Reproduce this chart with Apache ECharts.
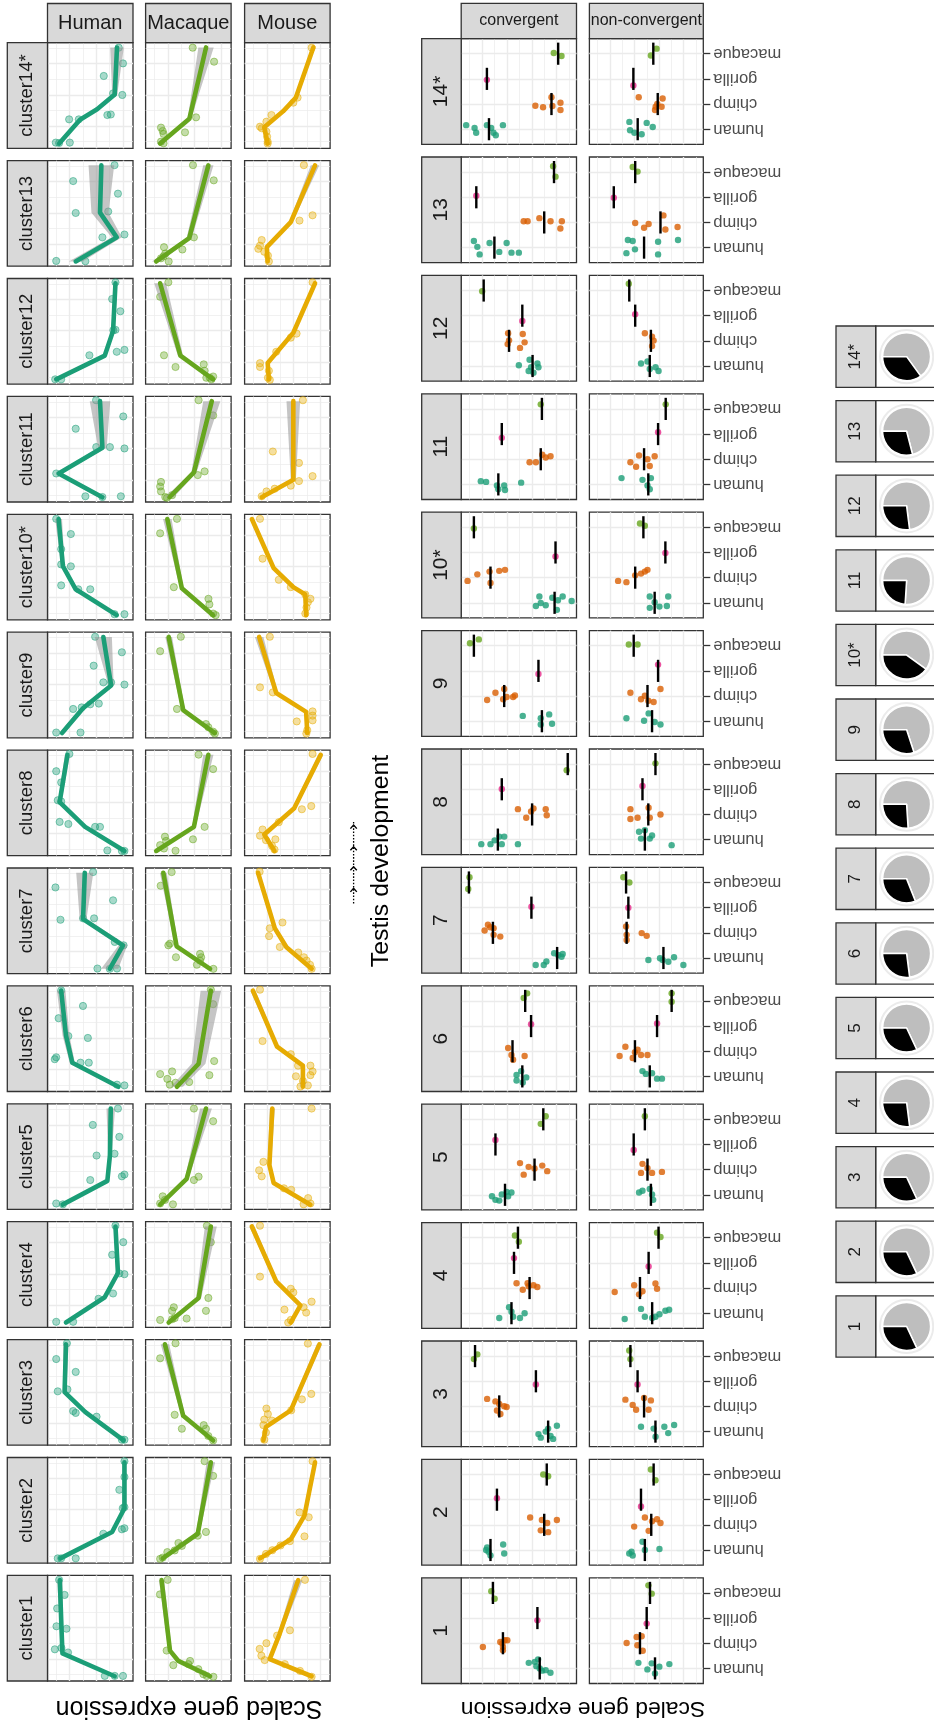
<!DOCTYPE html>
<html><head><meta charset="utf-8">
<script src="https://cdn.jsdelivr.net/npm/echarts/dist/echarts.min.js"></script>
<style>html,body{margin:0;padding:0;background:#fff}#chart{width:934px;height:1729px}</style>
</head><body><div id="chart"></div>
<script>
// ---------- labels ----------
const clusterLabels = ['cluster1','cluster2','cluster3','cluster4','cluster5','cluster6','cluster7','cluster8','cluster9','cluster10*','cluster11','cluster12','cluster13','cluster14*'];
const groupLabels = ['1','2','3','4','5','6','7','8','9','10*','11','12','13','14*'];
const species3 = ['Human','Macaque','Mouse'];
const species3Colors = ['#1B9E77','#66A61E','#E6AB02'];
const species3Fill = ['rgba(27,158,119,0.45)','rgba(102,166,30,0.45)','rgba(230,171,2,0.45)'];
const species4 = ['human','chimp','gorilla','macaque'];
const species4Colors = ['#1B9E77','#D95F02','#E7298A','#66A61E'];
const conditions = ['convergent','non-convergent'];
// grid line (tick) values
const topExprMajor = [0.11,0.428,0.74], topExprMinor = [0.273,0.583,0.903];
const topTimeMajor = [0.21,0.506,0.801], topTimeMinor = [0.0625,0.358,0.653,0.949];
const midExprMajor = [0.172,0.388,0.604,0.82], midExprMinor = [0.064,0.28,0.496,0.712,0.928];
const midCatTicks = [0,1,2,3];
// pie: share of black slice per group 1..14
const blackShare = [0.32,0.32,0.32,0.27,0.32,0.27,0.31,0.26,0.30,0.40,0.24,0.27,0.29,0.35];

// ---------- top block: points [expression, time], fit knots [time, expression, se] ----------
const c1Pts = [
 [[0.864,0.958],[0.80,0.815],[0.887,0.687],[0.895,0.518],[0.778,0.495],[0.914,0.30],[0.837,0.313],[0.76,0.27],[0.33,0.048],[0.214,0.048],[0.117,0.048]],
 [[0.742,0.958],[0.832,0.82],[0.754,0.288],[0.48,0.19],[0.50,0.16],[0.676,0.15],[0.383,0.112],[0.324,0.064],[0.285,0.048],[0.207,0.04]],
 [[0.294,0.958],[0.47,0.48],[0.62,0.43],[0.745,0.358],[0.824,0.304],[0.804,0.24],[0.765,0.198],[0.53,0.16],[0.353,0.096],[0.216,0.04]]];
const c1Fit = [
 [[0.955,0.856,0.03],[0.51,0.837,0.02],[0.262,0.825,0.02],[0.045,0.214,0.02]],
 [[0.955,0.813,0.03],[0.288,0.715,0.02],[0.19,0.617,0.03],[0.045,0.246,0.02]],
 [[0.955,0.373,0.05],[0.447,0.59,0.02],[0.208,0.706,0.02],[0.045,0.216,0.02]]];
const c2Pts = [
 [[0.10,0.965],[0.10,0.816],[0.16,0.694],[0.12,0.52],[0.10,0.53],[0.347,0.278],[0.13,0.32],[0.10,0.33],[0.88,0.045],[0.84,0.045],[0.67,0.045]],
 [[0.31,0.965],[0.21,0.826],[0.294,0.295],[0.39,0.26],[0.616,0.19],[0.576,0.163],[0.66,0.12],[0.746,0.104],[0.80,0.052],[0.83,0.04]],
 [[0.205,0.965],[0.358,0.48],[0.25,0.434],[0.30,0.253],[0.47,0.208],[0.58,0.167],[0.676,0.122],[0.75,0.087],[0.82,0.04]]];
const c2Fit = [
 [[0.955,0.10,0.02],[0.52,0.10,0.02],[0.295,0.244,0.02],[0.045,0.85,0.02]],
 [[0.955,0.237,0.05],[0.278,0.39,0.02],[0.045,0.80,0.02]],
 [[0.955,0.176,0.02],[0.45,0.30,0.02],[0.226,0.46,0.02],[0.045,0.82,0.02]]];
const c3Pts = [
 [[0.773,0.965],[0.898,0.816],[0.67,0.694],[0.88,0.51],[0.767,0.528],[0.70,0.323],[0.67,0.306],[0.426,0.27],[0.13,0.052],[0.10,0.052]],
 [[0.65,0.965],[0.83,0.823],[0.66,0.288],[0.576,0.156],[0.32,0.19],[0.294,0.156],[0.266,0.087],[0.21,0.045]],
 [[0.26,0.962],[0.22,0.486],[0.33,0.434],[0.455,0.33],[0.745,0.347],[0.728,0.295],[0.77,0.243],[0.68,0.233],[0.78,0.19],[0.75,0.12],[0.77,0.052]]];
const c3Fit = [
 [[0.955,0.784,0.03],[0.503,0.80,0.02],[0.313,0.557,0.02],[0.045,0.11,0.02]],
 [[0.955,0.774,0.05],[0.278,0.56,0.02],[0.045,0.21,0.02]],
 [[0.955,0.125,0.03],[0.33,0.46,0.02],[0.174,0.75,0.02],[0.045,0.78,0.02]]];
const c4Pts = [
 [[0.205,0.962],[0.114,0.806],[0.244,0.687],[0.10,0.503],[0.16,0.51],[0.233,0.32],[0.403,0.27],[0.898,0.052],[0.70,0.052]],
 [[0.283,0.962],[0.237,0.806],[0.266,0.278],[0.294,0.156],[0.67,0.19],[0.69,0.156],[0.66,0.087],[0.83,0.07],[0.69,0.076],[0.52,0.083]],
 [[0.82,0.962],[0.82,0.48],[0.46,0.365],[0.43,0.33],[0.216,0.243],[0.31,0.19],[0.534,0.167],[0.28,0.139],[0.46,0.07],[0.49,0.045]]];
const c4Fit = [
 [[0.955,0.205,0.02],[0.514,0.176,0.02],[0.285,0.33,0.02],[0.045,0.784,0.02]],
 [[0.955,0.237,0.07],[0.278,0.38,0.03],[0.045,0.73,0.02]],
 [[0.955,0.915,0.03],[0.434,0.63,0.02],[0.208,0.347,0.02],[0.045,0.46,0.02]]];
const c5Pts = [
 [[0.176,0.955],[0.47,0.80],[0.16,0.687],[0.426,0.51],[0.216,0.527],[0.50,0.278],[0.13,0.313],[0.10,0.33],[0.898,0.056],[0.82,0.048]],
 [[0.435,0.955],[0.21,0.835],[0.38,0.31],[0.435,0.278],[0.80,0.124],[0.774,0.09],[0.83,0.056],[0.68,0.048]],
 [[0.216,0.955],[0.78,0.45],[0.83,0.37],[0.80,0.313],[0.54,0.2],[0.455,0.186],[0.257,0.107],[0.23,0.056],[0.31,0.048]]];
const c5Fit = [
 [[0.955,0.26,0.05],[0.51,0.27,0.02],[0.27,0.30,0.02],[0.045,0.824,0.02]],
 [[0.955,0.294,0.07],[0.29,0.52,0.02],[0.045,0.83,0.02]],
 [[0.955,0.676,0.03],[0.42,0.71,0.02],[0.25,0.66,0.02],[0.045,0.23,0.02]]];
const c6Pts = [
 [[0.84,0.957],[0.585,0.81],[0.87,0.694],[0.756,0.525],[0.528,0.507],[0.898,0.324],[0.915,0.306],[0.614,0.273],[0.517,0.273],[0.187,0.065],[0.10,0.058]],
 [[0.237,0.964],[0.21,0.827],[0.198,0.288],[0.254,0.155],[0.69,0.19],[0.83,0.165],[0.746,0.119],[0.717,0.065],[0.65,0.083],[0.49,0.09]],
 [[0.82,0.964],[0.79,0.478],[0.46,0.353],[0.375,0.245],[0.23,0.245],[0.205,0.19],[0.23,0.155],[0.40,0.144],[0.318,0.10],[0.26,0.058],[0.347,0.047]]];
const c6Fit = [
 [[0.955,0.84,0.05],[0.53,0.784,0.04],[0.273,0.71,0.03],[0.045,0.17,0.02]],
 [[0.955,0.237,0.12],[0.263,0.38,0.08],[0.045,0.633,0.07]],
 [[0.955,0.903,0.03],[0.424,0.62,0.02],[0.245,0.318,0.02],[0.045,0.318,0.03]]];
const c7Pts = [
 [[0.467,0.961],[0.907,0.816],[0.233,0.694],[0.848,0.51],[0.584,0.523],[0.455,0.523],[0.214,0.30],[0.11,0.268],[0.416,0.048],[0.272,0.045],[0.187,0.048]],
 [[0.695,0.961],[0.824,0.832],[0.734,0.268],[0.715,0.284],[0.645,0.155],[0.363,0.187],[0.35,0.155],[0.363,0.123],[0.40,0.084],[0.207,0.045]],
 [[0.824,0.965],[0.557,0.484],[0.706,0.429],[0.714,0.355],[0.588,0.252],[0.373,0.2],[0.306,0.155],[0.275,0.123],[0.235,0.084],[0.216,0.045]]];
const c7Fit = [
 [[0.955,0.564,0.1],[0.516,0.584,0.04],[0.268,0.117,0.05],[0.045,0.272,0.1]],
 [[0.955,0.793,0.04],[0.258,0.637,0.02],[0.045,0.246,0.02]],
 [[0.955,0.843,0.02],[0.43,0.647,0.02],[0.25,0.51,0.02],[0.045,0.216,0.02]]];
const c8Pts = [
 [[0.744,0.964],[0.898,0.80],[0.84,0.694],[0.88,0.525],[0.84,0.514],[0.858,0.32],[0.756,0.30],[0.443,0.273],[0.386,0.273],[0.30,0.05],[0.13,0.045],[0.10,0.045]],
 [[0.38,0.957],[0.21,0.82],[0.31,0.273],[0.446,0.155],[0.774,0.18],[0.76,0.14],[0.83,0.10],[0.785,0.068],[0.65,0.047]],
 [[0.205,0.964],[0.22,0.47],[0.33,0.44],[0.60,0.317],[0.79,0.248],[0.82,0.19],[0.64,0.155],[0.75,0.147],[0.68,0.094],[0.65,0.058]]];
const c8Fit = [
 [[0.955,0.767,0.03],[0.507,0.858,0.02],[0.273,0.56,0.02],[0.045,0.10,0.02]],
 [[0.955,0.266,0.06],[0.273,0.435,0.02],[0.045,0.876,0.03]],
 [[0.955,0.11,0.03],[0.45,0.42,0.02],[0.2,0.77,0.02],[0.045,0.65,0.02]]];
const c9Pts = [
 [[0.443,0.957],[0.13,0.81],[0.46,0.683],[0.347,0.525],[0.256,0.525],[0.10,0.504],[0.40,0.324],[0.50,0.317],[0.70,0.273],[0.60,0.288],[0.898,0.05],[0.614,0.05]],
 [[0.588,0.957],[0.83,0.82],[0.633,0.273],[0.294,0.13],[0.266,0.10],[0.21,0.058],[0.19,0.04]],
 [[0.705,0.957],[0.82,0.478],[0.67,0.43],[0.205,0.25],[0.205,0.21],[0.205,0.165],[0.39,0.155],[0.267,0.072],[0.278,0.04]]];
const c9Fit = [
 [[0.955,0.347,0.1],[0.496,0.256,0.03],[0.28,0.585,0.03],[0.045,0.83,0.03]],
 [[0.955,0.73,0.04],[0.263,0.56,0.02],[0.045,0.19,0.02]],
 [[0.955,0.83,0.05],[0.424,0.63,0.02],[0.245,0.28,0.02],[0.045,0.267,0.02]]];
const c10Pts = [
 [[0.898,0.957],[0.727,0.813],[0.84,0.67],[0.84,0.525],[0.727,0.507],[0.84,0.327],[0.64,0.29],[0.50,0.29],[0.216,0.054],[0.10,0.054]],
 [[0.633,0.957],[0.83,0.82],[0.67,0.31],[0.265,0.2],[0.254,0.147],[0.21,0.06],[0.18,0.045]],
 [[0.82,0.957],[0.79,0.58],[0.60,0.38],[0.46,0.31],[0.29,0.24],[0.23,0.2],[0.26,0.167],[0.276,0.117],[0.29,0.06]]];
const c10Fit = [
 [[0.955,0.87,0.04],[0.51,0.82,0.02],[0.29,0.67,0.02],[0.045,0.19,0.02]],
 [[0.955,0.746,0.05],[0.30,0.576,0.02],[0.045,0.21,0.02]],
 [[0.955,0.915,0.02],[0.49,0.66,0.02],[0.31,0.43,0.02],[0.24,0.29,0.02],[0.045,0.28,0.02]]];
const c11Pts = [
 [[0.432,0.964],[0.114,0.81],[0.67,0.694],[0.10,0.507],[0.43,0.52],[0.27,0.52],[0.898,0.27],[0.557,0.054],[0.358,0.047],[0.142,0.054]],
 [[0.38,0.964],[0.21,0.82],[0.31,0.29],[0.39,0.255],[0.82,0.19],[0.83,0.147],[0.82,0.10],[0.77,0.047],[0.69,0.065],[0.75,0.04]],
 [[0.318,0.964],[0.67,0.478],[0.364,0.37],[0.205,0.245],[0.364,0.198],[0.46,0.155],[0.648,0.126],[0.744,0.10],[0.80,0.054]]];
const c11Fit = [
 [[0.955,0.386,0.12],[0.514,0.358,0.05],[0.27,0.87,0.03],[0.045,0.358,0.05]],
 [[0.955,0.226,0.1],[0.28,0.435,0.03],[0.045,0.72,0.05]],
 [[0.955,0.43,0.08],[0.21,0.43,0.03],[0.045,0.80,0.02]]];
const c12Pts = [
 [[0.205,0.964],[0.244,0.806],[0.148,0.69],[0.205,0.514],[0.23,0.51],[0.51,0.273],[0.19,0.306],[0.10,0.324],[0.91,0.045],[0.84,0.045]],
 [[0.734,0.964],[0.83,0.827],[0.785,0.273],[0.65,0.162],[0.32,0.187],[0.31,0.126],[0.25,0.06],[0.21,0.072],[0.29,0.06],[0.23,0.045]],
 [[0.205,0.964],[0.392,0.478],[0.46,0.44],[0.63,0.306],[0.82,0.198],[0.82,0.162],[0.716,0.126],[0.727,0.06],[0.705,0.04]]];
const c12Fit = [
 [[0.955,0.205,0.02],[0.504,0.233,0.02],[0.27,0.33,0.02],[0.045,0.898,0.02]],
 [[0.955,0.83,0.07],[0.27,0.593,0.03],[0.045,0.21,0.03]],
 [[0.955,0.176,0.02],[0.486,0.43,0.02],[0.2,0.73,0.02],[0.045,0.716,0.02]]];
const c13Pts = [
 [[0.216,0.957],[0.70,0.806],[0.176,0.687],[0.67,0.504],[0.29,0.518],[0.358,0.273],[0.10,0.30],[0.898,0.05],[0.557,0.047]],
 [[0.446,0.957],[0.203,0.813],[0.435,0.273],[0.785,0.18],[0.57,0.158],[0.77,0.12],[0.82,0.075],[0.73,0.045],[0.79,0.094]],
 [[0.307,0.957],[0.205,0.482],[0.358,0.432],[0.80,0.248],[0.82,0.194],[0.84,0.165],[0.77,0.137],[0.727,0.10],[0.716,0.045]]];
const c13Fit = [
 [[0.955,0.37,0.15],[0.507,0.386,0.1],[0.273,0.19,0.06],[0.045,0.67,0.08]],
 [[0.955,0.266,0.06],[0.266,0.49,0.03],[0.045,0.876,0.05]],
 [[0.955,0.176,0.05],[0.417,0.46,0.02],[0.18,0.74,0.02],[0.045,0.73,0.02]]];
const c14Pts = [
 [[0.167,0.953],[0.117,0.804],[0.342,0.685],[0.233,0.52],[0.125,0.505],[0.30,0.315],[0.26,0.32],[0.747,0.274],[0.634,0.274],[0.903,0.054],[0.739,0.054],[0.864,0.05]],
 [[0.449,0.953],[0.199,0.82],[0.41,0.293],[0.539,0.151],[0.82,0.196],[0.80,0.164],[0.79,0.136],[0.79,0.047],[0.82,0.063]],
 [[0.216,0.953],[0.38,0.48],[0.43,0.432],[0.686,0.315],[0.745,0.252],[0.82,0.205],[0.80,0.19],[0.745,0.158],[0.737,0.11],[0.73,0.063],[0.73,0.045]]];
const c14Fit = [
 [[0.955,0.187,0.08],[0.51,0.214,0.03],[0.37,0.42,0.02],[0.27,0.62,0.02],[0.045,0.864,0.03]],
 [[0.955,0.293,0.09],[0.28,0.488,0.02],[0.045,0.83,0.04]],
 [[0.955,0.196,0.02],[0.48,0.40,0.02],[0.35,0.55,0.02],[0.2,0.77,0.02],[0.045,0.73,0.02]]];
const topPts = [c1Pts,c2Pts,c3Pts,c4Pts,c5Pts,c6Pts,c7Pts,c8Pts,c9Pts,c10Pts,c11Pts,c12Pts,c13Pts,c14Pts];
const topFit = [c1Fit,c2Fit,c3Fit,c4Fit,c5Fit,c6Fit,c7Fit,c8Fit,c9Fit,c10Fit,c11Fit,c12Fit,c13Fit,c14Fit];

// ---------- middle block: points [expression, species position (0 human .. 3 macaque)], means [human, chimp, gorilla, macaque] ----------
const g1Conv = [[[0.414,0.22],[0.362,0.26],[0.348,0.09],[0.319,0.0],[0.299,-0.09],[0.267,-0.07],[0.226,-0.17],[0.333,0.36]],[[0.812,0.85],[0.661,1.05],[0.638,0.85],[0.623,1.12],[0.60,1.12],[0.638,0.72],[0.643,0.99]],[[0.339,1.91]],[[0.739,3.07],[0.71,2.77]]];
const g1ConvMean = [0.319,0.638,0.339,0.725];
const g1Non = [[[0.57,0.22],[0.491,-0.04],[0.453,0.2],[0.424,-0.2],[0.386,0.07],[0.298,0.17]],[[0.673,1.01],[0.585,1.25],[0.541,1.28],[0.579,0.92],[0.532,0.7]],[[0.497,1.78]],[[0.482,3.3],[0.453,2.97]]];
const g1NonMean = [0.424,0.556,0.497,0.468];
const g2Conv = [[[0.775,0.1],[0.763,-0.07],[0.746,-0.22],[0.636,0.22],[0.627,-0.14],[0.784,0]],[[0.402,1.29],[0.30,1.19],[0.254,1.07],[0.17,1.19],[0.246,0.71],[0.31,0.78]],[[0.69,2.06]],[[0.288,3.0],[0.246,2.93]]];
const g2ConvMean = [0.746,0.28,0.69,0.258];
const g2Non = [[[0.65,-0.14],[0.62,-0.22],[0.534,0.33],[0.513,0],[0.385,0.04],[0.63,-0.07]],[[0.607,0.93],[0.513,1.29],[0.48,0.76],[0.45,1.14],[0.406,1.22],[0.376,1.07]],[[0.547,1.73]],[[0.46,3.2],[0.42,2.77]]];
const g2NonMean = [0.513,0.457,0.547,0.436];
const g3Conv = [[[0.33,-0.1],[0.31,-0.24],[0.267,0],[0.225,-0.17],[0.203,-0.29],[0.17,0.23],[0.246,0.12]],[[0.775,1.3],[0.703,1.2],[0.67,1.1],[0.627,1.01],[0.69,0.84],[0.66,0.7],[0.606,0.98]],[[0.352,1.87]],[[0.89,2.88],[0.86,3.07]]];
const g3ConvMean = [0.246,0.67,0.352,0.88];
const g3Non = [[[0.547,0.19],[0.436,0.12],[0.419,-0.2],[0.342,0.19],[0.308,-0.06],[0.256,0.26]],[[0.684,1.27],[0.62,1.06],[0.59,0.87],[0.52,1.34],[0.48,0.87],[0.46,1.24]],[[0.577,1.87]],[[0.65,3.22],[0.64,2.88]]];
const g3NonMean = [0.42,0.52,0.577,0.64];
const g4Conv = [[[0.67,-0.19],[0.585,0.24],[0.55,-0.14],[0.49,-0.19],[0.45,0],[0.564,0.06]],[[0.52,1.19],[0.466,0.93],[0.415,1.07],[0.373,1.11],[0.34,1.04],[0.424,1.19]],[[0.542,2.19]],[[0.534,3.09],[0.5,2.84]]];
const g4ConvMean = [0.564,0.407,0.542,0.508];
const g4Non = [[[0.69,-0.23],[0.547,0.17],[0.513,-0.14],[0.449,-0.19],[0.42,-0.14],[0.385,-0.04],[0.333,0.1],[0.3,0.14]],[[0.778,0.84],[0.607,1.11],[0.564,0.75],[0.534,0.87],[0.42,1.18],[0.406,0.97]],[[0.48,1.86]],[[0.406,3.2],[0.376,3.03]]];
const g4NonMean = [0.449,0.556,0.48,0.393];
const g5Conv = [[[0.733,-0.06],[0.703,-0.2],[0.67,-0.23],[0.648,0.01],[0.606,0.11],[0.564,0.09],[0.593,-0.06]],[[0.49,1.26],[0.415,1.11],[0.458,0.8],[0.364,1.05],[0.297,1.16],[0.254,0.94]],[[0.703,2.18]],[[0.267,3.12],[0.31,2.82]]];
const g5ConvMean = [0.62,0.364,0.703,0.288];
const g5Non = [[[0.564,0.09],[0.534,0.16],[0.47,0.23],[0.45,0.01],[0.44,-0.2]],[[0.534,1.23],[0.49,1.06],[0.45,0.87],[0.363,0.91],[0.547,0.87]],[[0.611,1.78]],[[0.513,3.12]]];
const g5NonMean = [0.46,0.49,0.611,0.513];
const g6Conv = [[[0.52,0.06],[0.48,0.21],[0.436,-0.04],[0.466,-0.24],[0.52,-0.16]],[[0.593,1.13],[0.564,0.85],[0.55,0.66],[0.45,0.81]],[[0.394,2.07]],[[0.458,3.12],[0.428,3.3]]];
const g6ConvMean = [0.47,0.555,0.394,0.445];
const g6Non = [[[0.534,0.21],[0.504,0.1],[0.45,0.13],[0.406,-0.09],[0.363,-0.09]],[[0.735,0.81],[0.684,1.18],[0.62,0.73],[0.6,0.96],[0.547,0.85],[0.49,0.85],[0.577,1.06]],[[0.406,2.1]],[[0.278,3.3],[0.278,2.97]]];
const g6NonMean = [0.47,0.6,0.406,0.278];
const g7Conv = [[[0.354,-0.28],[0.284,-0.28],[0.261,-0.14],[0.194,0.19],[0.159,0.12],[0.13,0.05],[0.12,0.16]],[[0.797,1.09],[0.768,1.32],[0.748,1.22],[0.719,1.18],[0.719,0.92],[0.661,0.85]],[[0.391,2.04]],[[0.928,3.21],[0.939,2.74]]];
const g7ConvMean = [0.168,0.725,0.391,0.933];
const g7Non = [[[0.482,-0.08],[0.38,-0.01],[0.357,-0.08],[0.307,-0.15],[0.257,0.03],[0.175,-0.28]],[[0.678,1.25],[0.673,0.92],[0.673,0.72],[0.541,0.99],[0.497,0.88]],[[0.658,2.0]],[[0.702,3.21],[0.649,3.0]]];
const g7NonMean = [0.35,0.673,0.658,0.678];
const g8Conv = [[[0.826,-0.18],[0.746,-0.18],[0.71,-0.03],[0.67,0.12],[0.627,0.12],[0.648,-0.18],[0.508,-0.18]],[[0.508,1.21],[0.436,0.87],[0.394,1.12],[0.373,1.24],[0.267,1.21],[0.258,0.97]],[[0.648,2.01]],[[0.085,2.76]]];
const g8ConvMean = [0.682,0.385,0.648,0.076];
const g8Non = [[[0.564,0.31],[0.513,0.37],[0.47,0.04],[0.45,0.16],[0.547,0.04],[0.278,-0.22]],[[0.64,1.21],[0.577,0.87],[0.64,0.82],[0.48,1.27],[0.47,0.87],[0.376,1.0]],[[0.534,2.13]],[[0.42,3.03]]];
const g8NonMean = [0.513,0.483,0.534,0.42];
const g9Conv = [[[0.466,0.21],[0.31,0.12],[0.31,-0.13],[0.237,0.27],[0.212,-0.1]],[[0.775,0.84],[0.703,1.13],[0.627,1.28],[0.636,0.87],[0.606,0.96],[0.55,0.96],[0.534,1.02]],[[0.33,1.88]],[[0.924,3.1],[0.847,3.25]]];
const g9ConvMean = [0.30,0.627,0.33,0.89];
const g9Non = [[[0.675,0.12],[0.52,0.02],[0.48,0.31],[0.427,-0.03],[0.376,-0.13]],[[0.64,1.13],[0.547,0.87],[0.513,1.01],[0.483,0.81],[0.376,1.28],[0.436,0.76]],[[0.397,2.25]],[[0.654,3.05],[0.577,3.05]]];
const g9NonMean = [0.45,0.49,0.397,0.611];
const g10Conv = [[[0.352,-0.13],[0.31,-0.01],[0.322,0.25],[0.267,-0.1],[0.21,0.2],[0.161,0.1],[0.12,0.25],[0.042,0.07],[0.17,-0.28]],[[0.945,0.87],[0.86,1.13],[0.754,1.24],[0.746,0.79],[0.67,1.27],[0.62,1.31]],[[0.182,1.84]],[[0.89,2.95]]];
const g10ConvMean = [0.19,0.746,0.182,0.89];
const g10Non = [[[0.47,0.25],[0.427,0.02],[0.308,0.25],[0.32,-0.13],[0.47,-0.2],[0.385,-0.15]],[[0.748,0.87],[0.675,0.82],[0.598,1.09],[0.547,1.16],[0.513,1.24],[0.49,1.31]],[[0.333,1.98]],[[0.556,3.15],[0.513,3.06]]];
const g10NonMean = [0.427,0.598,0.333,0.526];
const g11Conv = [[[0.83,0.13],[0.784,0.1],[0.678,-0.19],[0.627,-0.04],[0.69,-0.04],[0.62,-0.22],[0.48,0.07]],[[0.407,0.88],[0.352,0.88],[0.297,1.18],[0.267,1.07],[0.225,1.12]],[[0.648,1.85]],[[0.31,3.18]]];
const g11ConvMean = [0.678,0.31,0.648,0.30];
const g11Non = [[[0.718,0.25],[0.534,0.18],[0.46,0.25],[0.49,-0.04],[0.47,-0.19]],[[0.64,0.88],[0.59,0.7],[0.564,1.15],[0.49,1.0],[0.427,1.12],[0.47,0.73]],[[0.397,2.07]],[[0.33,3.18]]];
const g11NonMean = [0.483,0.52,0.397,0.33];
const g12Conv = [[[0.5,0.03],[0.407,0.25],[0.394,-0.05],[0.373,-0.27],[0.339,0.1],[0.415,-0.2],[0.33,-0.05]],[[0.593,1.3],[0.585,1.02],[0.597,0.87],[0.466,1.27],[0.45,0.94],[0.49,0.72]],[[0.47,1.79]],[[0.818,2.97]]];
const g12ConvMean = [0.381,0.585,0.47,0.805];
const g12Non = [[[0.547,0.1],[0.49,0.18],[0.47,-0.12],[0.419,-0.05],[0.393,-0.2]],[[0.513,1.3],[0.45,1.16],[0.45,0.79],[0.436,1.01]],[[0.598,2.06]],[[0.654,3.27]]];
const g12NonMean = [0.47,0.46,0.598,0.65];
const g13Conv = [[[0.89,0.26],[0.86,0.03],[0.84,-0.27],[0.754,0.18],[0.67,-0.17],[0.606,0.18],[0.564,-0.2],[0.5,-0.2]],[[0.458,1.05],[0.424,1.05],[0.322,1.17],[0.225,1.05],[0.127,1.05],[0.14,0.76]],[[0.869,2.06]],[[0.203,3.23],[0.182,2.82]]];
const g13ConvMean = [0.712,0.28,0.869,0.195];
const g13Non = [[[0.662,0.3],[0.62,0.26],[0.675,-0.22],[0.6,-0.07],[0.397,0.23],[0.397,-0.27],[0.222,0.3]],[[0.598,0.98],[0.52,0.79],[0.48,0.94],[0.35,1.28],[0.333,0.72],[0.226,0.82]],[[0.786,1.98]],[[0.62,3.2],[0.577,3.02]]];
const g13NonMean = [0.52,0.376,0.786,0.598];
const g14Conv = [[[0.957,0.16],[0.884,0.05],[0.87,-0.14],[0.777,0.16],[0.74,0.05],[0.72,-0.14],[0.70,-0.24],[0.638,0.16]],[[0.357,0.93],[0.29,0.87],[0.217,1.27],[0.209,0.92],[0.139,1.05],[0.139,0.76]],[[0.777,1.96]],[[0.197,3.03],[0.13,2.91]]];
const g14ConvMean = [0.759,0.217,0.777,0.159];
const g14Non = [[[0.649,0.29],[0.643,-0.04],[0.605,-0.14],[0.541,-0.2],[0.497,0.25],[0.444,0.09]],[[0.567,1.27],[0.418,0.89],[0.404,1.0],[0.357,1.22],[0.366,0.89],[0.424,0.76]],[[0.614,1.74]],[[0.46,2.93],[0.41,3.2]]];
const g14NonMean = [0.576,0.40,0.614,0.439];
const midPts = [[g1Conv,g1Non],[g2Conv,g2Non],[g3Conv,g3Non],[g4Conv,g4Non],[g5Conv,g5Non],[g6Conv,g6Non],[g7Conv,g7Non],[g8Conv,g8Non],[g9Conv,g9Non],[g10Conv,g10Non],[g11Conv,g11Non],[g12Conv,g12Non],[g13Conv,g13Non],[g14Conv,g14Non]];
const midMean = [[g1ConvMean,g1NonMean],[g2ConvMean,g2NonMean],[g3ConvMean,g3NonMean],[g4ConvMean,g4NonMean],[g5ConvMean,g5NonMean],[g6ConvMean,g6NonMean],[g7ConvMean,g7NonMean],[g8ConvMean,g8NonMean],[g9ConvMean,g9NonMean],[g10ConvMean,g10NonMean],[g11ConvMean,g11NonMean],[g12ConvMean,g12NonMean],[g13ConvMean,g13NonMean],[g14ConvMean,g14NonMean]];

// ---------- build ----------
const FONT = '"Liberation Sans", Arial, Helvetica, sans-serif';
const grids = [], xAxis = [], yAxis = [], series = [], elements = [];
const BORDER = '#333333', STRIP = '#D9D9D9', GRIDC = '#EBEBEB';

function addPanel(left, top, width, height) {
  grids.push({left: left, top: top, width: width, height: height, show: true, backgroundColor: '#fff', borderColor: BORDER, borderWidth: 1.3});
  return grids.length - 1;
}
function valAxis(gi, min, max, inverse, ticks, lw, extra) {
  return Object.assign({
    type: 'value', gridIndex: gi, min: min, max: max, inverse: inverse, silent: true,
    axisLine: {show: false}, axisTick: {show: false, customValues: ticks},
    axisLabel: {show: false}, splitLine: {show: true, lineStyle: {color: GRIDC, width: lw}}
  }, extra || {});
}
function stripRect(x, y, w, h) {
  elements.push({type: 'rect', silent: true, z: 1, shape: {x: x, y: y, width: w, height: h}, style: {fill: STRIP, stroke: BORDER, lineWidth: 1.3}});
}
function label(text, x, y, size, rot, color) {
  elements.push({type: 'text', silent: true, z: 2, x: x, y: y, rotation: rot || 0,
    style: {text: text, fill: color || '#1A1A1A', font: size + 'px ' + FONT, align: 'center', verticalAlign: 'middle', textAlign: 'center', textVerticalAlign: 'middle'}});
}

// top block
const topCols = [47.5, 145.6, 244.6], topW = 85.5, topH = 105.6;
species3.forEach((s, j) => { stripRect(topCols[j], 3.5, topW, 39.2); label(s, topCols[j] + topW / 2, 23.1, 20, 0); });
for (let k = 0; k < 14; k++) {
  const top = 42.7 + (13 - k) * 117.9;
  stripRect(7.3, top, 40.2, topH);
  label(clusterLabels[k], 27.4, top + topH / 2, 18.5, Math.PI / 2);
  for (let j = 0; j < 3; j++) {
    const gi = addPanel(topCols[j], top, topW, topH);
    const xi = xAxis.length;
    xAxis.push(valAxis(gi, 0, 1, true, topExprMajor, 1.4, {position: 'bottom'}));
    xAxis.push(valAxis(gi, 0, 1, true, topExprMinor, 0.7, {position: 'top'}));
    const yi = yAxis.length;
    yAxis.push(valAxis(gi, 0, 1, false, topTimeMajor, 1.4, {position: 'left'}));
    yAxis.push(valAxis(gi, 0, 1, false, topTimeMinor, 0.7, {position: 'right'}));
    const fit = topFit[k][j];
    series.push({type: 'scatter', xAxisIndex: xi, yAxisIndex: yi, silent: true, z: 2, symbolSize: 7.2,
      itemStyle: {color: species3Fill[j], borderColor: species3Colors[j], borderWidth: 0.6, opacity: 0.85},
      data: topPts[k][j]});
    series.push({type: 'custom', xAxisIndex: xi, yAxisIndex: yi, silent: true, z: 3, clip: true,
      data: fit.map(p => [p[1] - p[2], p[1] + p[2], p[0]]),
      encode: {x: [0, 1], y: 2},
      renderItem: (function (f) {
        return function (params, api) {
          if (params.dataIndex !== 0) return null;
          const a = f.map(p => api.coord([p[1] + p[2], p[0]]));
          const b = f.slice().reverse().map(p => api.coord([p[1] - p[2], p[0]]));
          return {type: 'polygon', shape: {points: a.concat(b)}, style: {fill: 'rgba(150,150,150,0.55)'}};
        };
      })(fit)});
    series.push({type: 'line', xAxisIndex: xi, yAxisIndex: yi, silent: true, z: 4, showSymbol: false, symbol: 'none',
      lineStyle: {color: species3Colors[j], width: 4.6, join: 'round', cap: 'round'},
      data: fit.map(p => [p[1], p[0]])});
  }
}

// middle block
const midCols = [461.2, 589.4], midWs = [115.3, 113.9], midH = 105.7;
conditions.forEach((c, j) => { stripRect(midCols[j], 3.3, midWs[j], 35.3); label(c, midCols[j] + midWs[j] / 2, 21, 16, 0); });
for (let k = 0; k < 14; k++) {
  const top = 38.6 + (13 - k) * 118.4;
  stripRect(421.7, top, 39.5, midH);
  label(groupLabels[k], 441.5, top + midH / 2, 21, Math.PI / 2);
  for (let j = 0; j < 2; j++) {
    const gi = addPanel(midCols[j], top, midWs[j], midH);
    const xi = xAxis.length;
    xAxis.push(valAxis(gi, 0, 1, true, midExprMajor, 1.4, {position: 'bottom'}));
    xAxis.push(valAxis(gi, 0, 1, true, midExprMinor, 0.7, {position: 'top'}));
    const yi = yAxis.length;
    const showLab = j === 1;
    yAxis.push(valAxis(gi, -0.6, 3.6, false, midCatTicks, 1.4, {
      position: 'right',
      axisTick: {show: showLab, customValues: midCatTicks, length: 7, lineStyle: {color: BORDER, width: 1.3}},
      axisLabel: {show: showLab, customValues: midCatTicks, rotate: 180, margin: 10, fontSize: 16.5, fontFamily: FONT, color: '#4D4D4D',
        formatter: v => species4[Math.round(v)]}
    }));
    for (let s = 0; s < 4; s++) {
      series.push({type: 'scatter', xAxisIndex: xi, yAxisIndex: yi, silent: true, z: 2, symbolSize: 6.4,
        itemStyle: {color: species4Colors[s]}, data: midPts[k][j][s]});
    }
    series.push({type: 'custom', xAxisIndex: xi, yAxisIndex: yi, silent: true, z: 5,
      data: midMean[k][j].map((m, i) => [m, i]),
      renderItem: function (params, api) {
        const v = api.value(0), c = api.value(1);
        const p1 = api.coord([v, c - 0.44]), p2 = api.coord([v, c + 0.44]);
        return {type: 'line', shape: {x1: p1[0], y1: p1[1], x2: p2[0], y2: p2[1]}, style: {stroke: '#000', lineWidth: 2.4}};
      }});
  }
}

// pies
for (let k = 0; k < 14; k++) {
  const top = 326 + (13 - k) * 74.6, h = 61.3, cy = top + h / 2;
  stripRect(836, top, 39.7, h);
  label(groupLabels[k], 855.8, cy, 17, Math.PI / 2);
  elements.push({type: 'rect', silent: true, z: 0, shape: {x: 875.7, y: top, width: 70, height: h}, style: {fill: '#fff', stroke: BORDER, lineWidth: 1.3}});
  elements.push({type: 'circle', silent: true, z: 1, shape: {cx: 906.6, cy: cy, r: 26.6}, style: {fill: 'none', stroke: GRIDC, lineWidth: 2}});
  series.push({type: 'pie', silent: true, z: 3, center: [906.6, cy], radius: [0, 24], startAngle: 180, clockwise: true,
    label: {show: false}, labelLine: {show: false}, emphasis: {disabled: true}, animation: false,
    itemStyle: {borderColor: '#fff', borderWidth: 1.5},
    data: [{name: 'other', value: 1 - blackShare[k], itemStyle: {color: '#BEBEBE'}}, {name: 'share', value: blackShare[k], itemStyle: {color: '#000'}}]});
}

// titles
label('Scaled gene expression', 189, 1708, 25, Math.PI, '#000');
label('Scaled gene expression', 583, 1708, 22.9, Math.PI, '#000');
label('Testis development', 381.5, 861, 24.8, Math.PI / 2, '#000');
// dashed arrow
elements.push({type: 'line', silent: true, shape: {x1: 353.6, y1: 903.5, x2: 353.6, y2: 822}, style: {stroke: '#000', lineWidth: 1.3, lineDash: [1.6, 1.6]}});
[825, 846.7, 866.7, 888.3].forEach(y => {
  elements.push({type: 'polyline', silent: true, shape: {points: [[350.4, y + 3.6], [353.6, y], [356.8, y + 3.6]]}, style: {stroke: '#000', fill: 'none', lineWidth: 1.4}});
});

const option = {
  animation: false,
  backgroundColor: '#fff',
  grid: grids, xAxis: xAxis, yAxis: yAxis, series: series,
  graphic: {elements: elements}
};
const chart = echarts.init(document.getElementById('chart'), null, {renderer: 'canvas', width: 934, height: 1729});
chart.setOption(option);
</script></body></html>
